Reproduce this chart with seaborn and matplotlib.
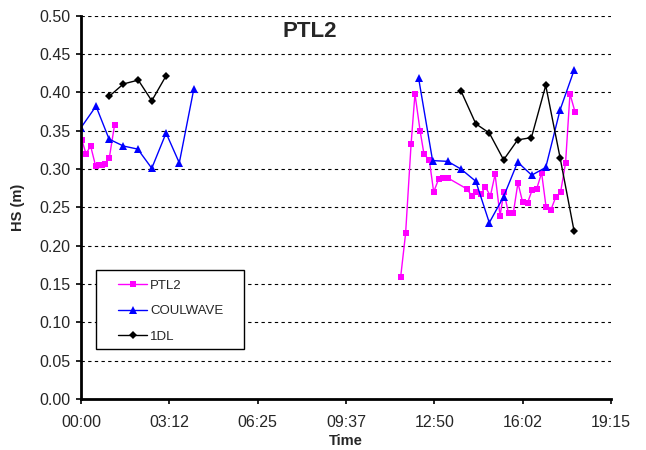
import pandas as pd
import matplotlib
matplotlib.use("Agg")
import matplotlib.pyplot as plt
from matplotlib.patches import Rectangle
import seaborn as sns

# time in decimal hours, HS in metres
ptl2_am_t = [0.03, 0.18, 0.35, 0.53, 0.66, 0.76, 0.87, 1.03, 1.22]
ptl2_am_hs = [0.338, 0.320, 0.330, 0.304, 0.305, 0.305, 0.306, 0.315, 0.358]
ptl2_pm_t = [11.61, 11.79, 11.99, 12.13, 12.32, 12.46, 12.65, 12.81, 12.99, 13.16, 13.34,
             14.02, 14.19, 14.35, 14.53, 14.68, 14.87, 15.04, 15.22, 15.36, 15.53, 15.70,
             15.87, 16.04, 16.22, 16.39, 16.55, 16.73, 16.89, 17.07, 17.24, 17.42, 17.60,
             17.76, 17.94]
ptl2_pm_hs = [0.159, 0.216, 0.333, 0.398, 0.349, 0.319, 0.312, 0.270, 0.287, 0.288, 0.288,
              0.274, 0.265, 0.270, 0.267, 0.277, 0.265, 0.293, 0.239, 0.270, 0.242, 0.242,
              0.282, 0.257, 0.256, 0.273, 0.274, 0.295, 0.251, 0.247, 0.263, 0.270, 0.308,
              0.398, 0.375]

coul_am_t = [0.0, 0.545, 1.02, 1.54, 2.06, 2.57, 3.09, 3.57, 4.10]
coul_am_hs = [0.354, 0.382, 0.339, 0.330, 0.326, 0.301, 0.347, 0.308, 0.405]
coul_pm_t = [12.26, 12.77, 13.32, 13.80, 14.34, 14.83, 15.35, 15.86, 16.37, 16.88, 17.40, 17.91]
coul_pm_hs = [0.419, 0.311, 0.310, 0.300, 0.284, 0.230, 0.264, 0.309, 0.292, 0.302, 0.377, 0.429]

dl_am_t = [1.03, 1.54, 2.08, 2.57, 3.08]
dl_am_hs = [0.395, 0.411, 0.416, 0.389, 0.421]
dl_pm_t = [13.80, 14.34, 14.83, 15.35, 15.86, 16.36, 16.88, 17.40, 17.91]
dl_pm_hs = [0.402, 0.359, 0.347, 0.312, 0.338, 0.341, 0.409, 0.315, 0.219]

tick_labels = ["00:00", "03:12", "06:25", "09:37", "12:50", "16:02", "19:15"]
x_max = 19.25


def build_frame():
    parts = []
    for name, session, t, hs in [
        ("PTL2", "am", ptl2_am_t, ptl2_am_hs),
        ("PTL2", "pm", ptl2_pm_t, ptl2_pm_hs),
        ("COULWAVE", "am", coul_am_t, coul_am_hs),
        ("COULWAVE", "pm", coul_pm_t, coul_pm_hs),
        ("1DL", "am", dl_am_t, dl_am_hs),
        ("1DL", "pm", dl_pm_t, dl_pm_hs),
    ]:
        parts.append(pd.DataFrame({"time": t, "hs": hs, "series": name, "session": session}))
    return pd.concat(parts, ignore_index=True)


df = build_frame()

sns.set_style("white")
plt.rcParams["font.family"] = ["Liberation Sans", "DejaVu Sans"]

fig = plt.figure(figsize=(6.46, 4.5), dpi=100)
ax = fig.add_axes([0.1254, 0.1133, 0.8204, 0.8518])

palette = {"PTL2": "#ff00ff", "COULWAVE": "#0000ff", "1DL": "#000000"}
markers = {"PTL2": "s", "COULWAVE": "^", "1DL": "D"}
msize = {"s": 4.3, "^": 5.5, "D": 3.8}

sns.lineplot(data=df, x="time", y="hs", hue="series", style="series", units="session",
             estimator=None, palette=palette, markers=markers, dashes=False,
             linewidth=1, markeredgewidth=0, ax=ax, legend=True)

for line in ax.lines:
    m = line.get_marker()
    if m in msize:
        line.set_markersize(msize[m])

ax.set_xlim(0, x_max)
ax.set_ylim(0, 0.5)
ax.set_xticks([i * x_max / 6 for i in range(7)])
ax.set_xticklabels(tick_labels)
ax.set_yticks([i * 0.05 for i in range(11)])
ax.set_yticklabels([f"{i * 0.05:.2f}" for i in range(11)])
ax.tick_params(axis="both", labelsize=11.5, direction="out", length=3.5, width=1.2,
               color="black", bottom=True, left=True)
ax.tick_params(axis="x", pad=8)
ax.tick_params(axis="y", pad=4)
ax.yaxis.grid(True, linestyle=(0, (3, 3)), color="black", linewidth=0.8)
ax.xaxis.grid(False)

for side in ["top", "right"]:
    ax.spines[side].set_visible(False)
for side in ["left", "bottom"]:
    ax.spines[side].set_color("black")
    ax.spines[side].set_linewidth(2)

ax.set_xlabel("Time", fontsize=10.5, fontweight="bold")
ax.set_ylabel("HS (m)", fontsize=10.5, fontweight="bold")
ax.xaxis.set_label_coords(0.5, -0.091)
ax.yaxis.set_label_coords(-0.105, 0.5)
ax.text(0.432, 0.958, "PTL2", transform=ax.transAxes, ha="center", va="center",
        fontsize=16, fontweight="bold")

# legend box drawn separately, entries placed inside it
ax.add_patch(Rectangle((0.0283, 0.130), 0.279, 0.206, transform=ax.transAxes,
                       facecolor="white", edgecolor="black", linewidth=1, zorder=4))
handles, labels = ax.get_legend_handles_labels()
for h in handles:
    m = h.get_marker()
    if m in msize:
        h.set_markersize(msize[m])
leg = ax.legend(handles, labels, loc="upper left", bbox_to_anchor=(0.0698, 0.3116),
                borderaxespad=0, borderpad=0, fontsize=9.5, frameon=False,
                handlelength=2.2, handletextpad=0.25, labelspacing=1.0)
leg.set_zorder(5)

fig.savefig("out.png", dpi=100)
